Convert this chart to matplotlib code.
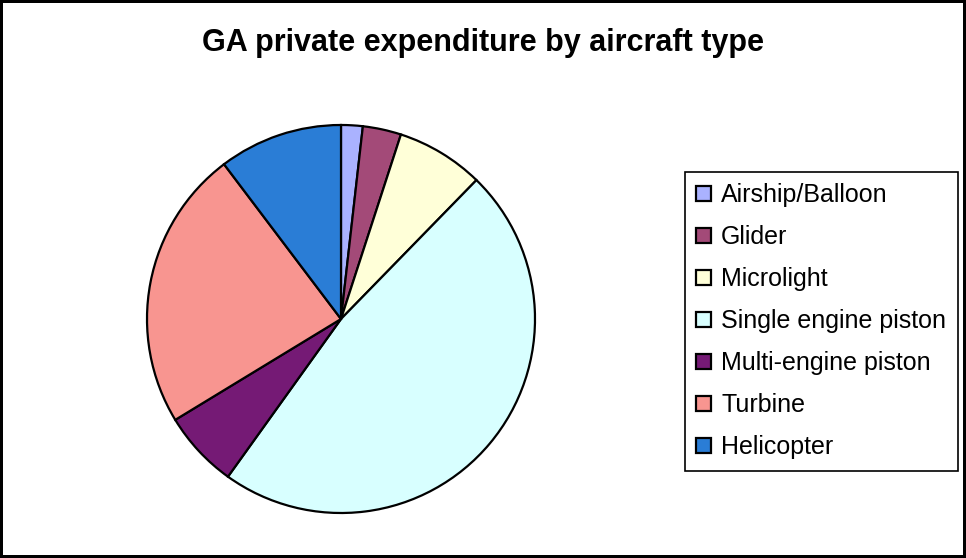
#!/usr/bin/env python
# GA private expenditure pie, redrawn from an Excel-style chart
import matplotlib
matplotlib.use('agg')
import matplotlib.pyplot as plt

# shares in percent (clockwise from 12 o'clock)
types  = ["Airship/Balloon", "Glider", "Microlight", "Single engine piston",
          "Multi-engine piston", "Turbine", "Helicopter"]
shares = [1.8, 3.2, 7.3, 47.6, 6.4, 23.4, 10.3]
colors = ["#AAB2FF", "#A34A78", "#FFFFD8", "#D8FFFF", "#751A75", "#F89590", "#2A7DD6"]

plt.rcParams['font.family'] = ['Liberation Sans', 'DejaVu Sans']

fig = plt.figure(figsize=(9.66, 5.58), dpi=100, edgecolor='black', linewidth=3)

# pie area in pixels: center (341,319), radius ~194
ax = fig.add_axes([147/966, (558-513)/558, 388/966, 388/558])
wedges, _ = ax.pie(shares, colors=colors, startangle=90, counterclock=False,
                   wedgeprops=dict(edgecolor='black', linewidth=1.6))
ax.set_xlim(-1.0, 1.0)
ax.set_ylim(-1.0, 1.0)
ax.set_aspect('equal')
ax.axis('off')

fig.text(0.5, 1 - 43/558, "GA private expenditure by aircraft type",
         ha='center', va='center', fontsize=22, fontweight='bold')

leg = fig.legend(wedges, types, loc='upper left',
                 bbox_to_anchor=(685/966, 1 - 172/558),
                 fontsize=18, frameon=True, fancybox=False, shadow=False,
                 edgecolor='black', framealpha=1,
                 handlelength=0.6, handleheight=0.6, handletextpad=0.4,
                 labelspacing=0.72, borderpad=0.45, borderaxespad=0)
leg.get_frame().set_linewidth(1.2)

fig.savefig("out.png", dpi=100)
